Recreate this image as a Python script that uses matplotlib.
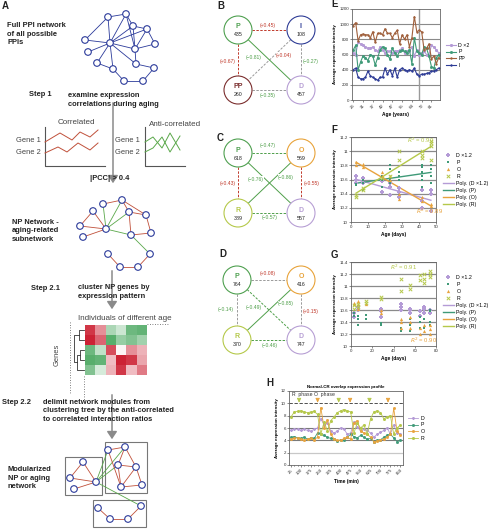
import numpy as np
import matplotlib
matplotlib.use('Agg')
import matplotlib.pyplot as plt
from matplotlib.patches import Circle, Rectangle, FancyArrowPatch
from matplotlib.colors import LinearSegmentedColormap

plt.rcParams['font.family'] = ['Liberation Sans', 'DejaVu Sans']

# ---------------- data ----------------
# Panel B-D: module sizes
B_nodes = ['P', 'I', 'PP', 'D']
B_sizes = [435, 108, 260, 457]
C_nodes = ['P', 'O', 'R', 'D']
C_sizes = [618, 569, 389, 557]
D_nodes = ['P', 'O', 'R', 'D']
D_sizes = [764, 416, 370, 747]

# Panel E (age in years, categorical)
ages_E = [26, 28, 29, 30, 31, 33, 34, 35, 37, 38, 40, 41, 42, 44, 45, 46, 47, 49,
          51, 53, 55, 57, 59, 61, 64, 66, 68, 70, 72, 74, 77, 79, 81, 84, 87, 91]
e_D = [620, 600, 760, 740, 720, 700, 680, 680, 700, 660, 640, 700, 660, 620, 640, 640, 620, 640,
       640, 660, 680, 620, 640, 640, 700, 580, 660, 600, 620, 640, 600, 600, 720, 700, 660, 620]
e_P = [660, 720, 400, 500, 580, 560, 520, 600, 580, 460, 560, 660, 700, 680, 600, 540, 680, 620,
       580, 640, 660, 640, 620, 660, 480, 820, 640, 620, 600, 700, 680, 580, 440, 420, 560, 600]
e_PP = [980, 1020, 780, 860, 870, 860, 860, 820, 900, 760, 880, 880, 860, 940, 880, 880, 820, 880,
        920, 740, 860, 800, 860, 700, 820, 1100, 900, 920, 900, 660, 680, 740, 540, 580, 480, 560]
e_I = [400, 420, 300, 280, 280, 300, 380, 320, 300, 280, 260, 300, 300, 420, 340, 400, 320, 420,
       300, 400, 420, 400, 380, 400, 380, 420, 340, 320, 340, 340, 350, 360, 380, 380, 400, 420]

# Panel F (age in days)
f_D_x = [3, 3, 3, 7, 7, 18, 18, 23, 23, 23, 28, 28, 28, 42, 42, 42, 47, 47, 47]
f_D_y = [10.65, 10.60, 10.55, 10.55, 10.62, 10.43, 10.58, 10.38, 10.50, 10.55, 10.35, 10.42, 10.48,
         10.20, 10.30, 10.45, 10.15, 10.40, 10.45]
f_P_x = [3, 3, 7, 7, 7, 18, 18, 18, 23, 23, 23, 23, 28, 28, 28, 42, 42, 42, 42, 42, 42, 47, 47, 47, 47]
f_P_y = [10.52, 10.54, 10.45, 10.55, 10.60, 10.50, 10.60, 10.65, 10.55, 10.60, 10.75, 10.80,
         10.60, 10.65, 10.70, 10.50, 10.60, 10.65, 10.70, 10.78, 10.80, 10.55, 10.65, 10.75, 10.80]
f_O_x = [3, 3, 7, 7, 18, 18, 23, 23, 28, 28, 42, 42, 47, 47]
f_O_y = [10.85, 10.80, 10.82, 10.78, 10.65, 10.70, 10.60, 10.65, 10.32, 10.40, 10.30, 10.35, 10.22, 10.25]
f_R_x = [3, 3, 7, 7, 18, 23, 28, 28, 42, 42, 42, 47, 47, 47, 47]
f_R_y = [10.36, 10.38, 10.45, 10.48, 10.62, 10.65, 10.87, 11.00, 10.90, 10.95, 11.00,
         10.88, 11.08, 11.12, 11.15]

# Panel G (age in days)
g_D_x = [3, 3, 7, 7, 28, 28, 28, 47, 47, 47, 56, 56, 56, 65, 65, 69, 69, 69, 74, 74]
g_D_y = [10.48, 10.55, 10.60, 10.65, 10.48, 10.58, 10.62, 10.60, 10.65, 10.70, 10.55, 10.60, 10.62,
         10.50, 10.58, 10.55, 10.62, 10.65, 10.55, 10.60]
g_P_x = [3, 3, 7, 7, 7, 14, 14, 28, 28, 47, 47, 56, 56, 56, 65, 65, 65, 69, 69, 74, 74, 74, 74]
g_P_y = [10.50, 10.55, 10.35, 10.45, 10.50, 10.45, 10.52, 10.35, 10.38, 10.25, 10.30, 10.25, 10.35,
         10.45, 10.30, 10.40, 10.48, 10.30, 10.45, 10.35, 10.40, 10.58, 10.60]
g_O_x = [3, 3, 7, 7, 7, 14, 28, 28, 47, 47, 47, 56, 56, 56, 65, 65, 69, 69, 74, 74, 74]
g_O_y = [10.70, 10.72, 10.62, 10.70, 10.75, 10.70, 10.55, 10.60, 10.30, 10.40, 10.45, 10.30, 10.40,
         10.48, 10.20, 10.30, 10.25, 10.35, 10.20, 10.28, 10.35]
g_R_x = [3, 3, 7, 7, 14, 14, 28, 28, 47, 47, 56, 56, 65, 65, 69, 69, 69, 74, 74, 74]
g_R_y = [10.62, 10.68, 10.65, 10.70, 10.72, 10.75, 10.78, 10.82, 10.92, 11.12, 10.95, 11.02,
         11.10, 11.18, 11.05, 11.12, 11.20, 11.15, 11.20, 11.25]

# Panel H (time in min)
h_t = [25, 50, 75, 100, 125, 150, 175, 200, 225, 250, 275, 300, 325, 350, 375, 400, 425,
       450, 475, 500, 525, 550, 575, 600, 625, 650, 675, 700, 725, 750, 775, 800, 825, 850]
h_R = [7.8, 8.6, 8.7, 8.8, 8.6, 8.5, 8.6, 8.7, 8.2, 5.0, 7.0, 5.5, 7.2, 7.8, 8.5, 8.8, 9.0,
       8.8, 8.6, 5.2, 6.8, 6.0, 6.5, 5.0, 7.5, 8.6, 8.8, 8.5, 7.5, 7.8, 8.0, 5.0, 6.0, 6.5]
h_O = [4.2, 4.3, 4.4, 4.2, 4.0, 4.2, 4.3, 4.1, 4.5, 9.3, 6.0, 7.3, 5.0, 4.2, 4.0, 4.0, 4.3,
       4.5, 4.2, 6.8, 7.2, 5.5, 5.2, 5.0, 4.5, 3.8, 3.9, 4.0, 4.2, 4.5, 5.0, 9.2, 5.5, 4.8]
h_D = [5.6, 5.8, 5.8, 5.6, 5.8, 5.6, 5.5, 5.8, 6.0, 7.5, 6.5, 6.8, 5.5, 5.2, 5.5, 6.0, 5.8,
       5.0, 5.2, 7.0, 6.2, 5.5, 5.8, 5.6, 5.2, 4.5, 5.0, 5.3, 5.6, 6.0, 5.0, 6.5, 5.2, 5.0]
h_P = [4.5, 4.6, 4.4, 4.3, 4.5, 4.2, 4.4, 4.3, 5.2, 5.0, 4.8, 4.5, 4.3, 4.2, 3.9, 4.1, 4.0,
       4.5, 5.0, 4.6, 4.4, 4.8, 4.5, 4.2, 4.3, 3.8, 4.0, 4.1, 4.5, 4.8, 5.0, 4.4, 3.8, 4.0]
h_phase_t = [86, 226, 385, 471, 617, 757]
h_phase = ['R', 'O', 'R', 'O', 'R', 'O']

# ---------------- styles ----------------
cD, cP, cO, cR = '#b49bd6', '#3f9a78', '#e8a33d', '#b5c84a'
cPP, cI = '#a0603c', '#2e3c96'
NAVY = '#2b3a9a'
RED = '#c0503a'
GRN = '#5aa84a'
GRAY = '#9a9a9a'

W, H = 492, 529
fig = plt.figure(figsize=(W / 100, H / 100), dpi=100)
ov = fig.add_axes([0, 0, 1, 1])
ov.set_xlim(0, W)
ov.set_ylim(H, 0)
ov.axis('off')

BS = 5.4   # bold step text size
NS = 5.4   # normal annotation size


def fbox(x0, y0, x1, y1):
    return [x0 / W, 1 - y1 / H, (x1 - x0) / W, (y1 - y0) / H]


def txt(x, y, s, size=BS, bold=False, color='#222222', **kw):
    ov.text(x, y, s, fontsize=size, fontweight='bold' if bold else 'normal', color=color,
            va=kw.pop('va', 'center'), ha=kw.pop('ha', 'left'), **kw)


def network(nodes, edges, r=3.3):
    for a, b, c in edges:
        ov.plot([nodes[a][0], nodes[b][0]], [nodes[a][1], nodes[b][1]], color=c, lw=0.6, zorder=2)
    for (x, y) in nodes:
        ov.add_patch(Circle((x, y), r, facecolor='white', edgecolor=NAVY, lw=0.8, zorder=3))


def arrow(x, y0, y1):
    ov.add_patch(FancyArrowPatch((x, y0), (x, y1), arrowstyle='-|>,head_length=3,head_width=2',
                                 color='#8a8a8a', lw=1.1, zorder=1, mutation_scale=1.5))


# ---------------- Panel A ----------------
txt(2, 6, 'A', size=7, bold=True)
full_nodes = [(108, 17), (126, 14), (85, 40), (110, 43), (133, 26), (147, 29), (155, 44), (135, 49),
              (88, 52), (97, 63), (113, 69), (136, 64), (154, 68), (124, 81), (143, 81)]
full_edges = [(0, 1), (0, 2), (0, 3), (1, 3), (1, 4), (1, 7), (4, 5), (4, 3), (5, 3), (5, 6), (6, 7),
              (3, 7), (3, 2), (3, 8), (3, 9), (3, 10), (3, 11), (7, 11), (11, 12), (12, 14), (14, 13),
              (13, 10), (4, 7), (5, 7), (9, 10)]
network(full_nodes, [(a, b, NAVY) for a, b in full_edges])
txt(7, 34, 'Full PPI network\nof all possible\nPPIs', bold=True, linespacing=1.25)

arrow(113, 100, 186)
txt(29, 95, 'Step 1', bold=True)
txt(68, 100, 'examine expression\ncorrelations during aging', bold=True, linespacing=1.25)

# mini correlated / anti-correlated charts
ov.plot([45, 45, 105], [127, 166, 166], color='#555555', lw=0.8)
ov.plot([145, 145, 185], [127, 166, 166], color='#555555', lw=0.8)
ov.plot([45, 60, 72, 80, 90, 98], [142, 133, 140, 132, 137, 130], color=RED, lw=0.7)
ov.plot([45, 58, 67, 78, 90, 98], [153, 147, 152, 143, 150, 143], color=RED, lw=0.7)
ov.plot([145, 153, 162, 170, 180], [142, 137, 148, 133, 150], color=GRN, lw=0.7)
ov.plot([145, 153, 162, 170, 180], [152, 148, 137, 152, 136], color=GRN, lw=0.7)
txt(58, 123, 'Correlated', size=NS + 0.4, color='#444444')
txt(149, 125, 'Anti-correlated', size=NS + 0.4, color='#444444')
for gx in (16, 115):
    txt(gx, 141, 'Gene 1', size=NS, color='#444444')
    txt(gx, 153, 'Gene 2', size=NS, color='#444444')
txt(90, 178, '|PCC| > 0.4', bold=True)

np_nodes = [(103, 204), (122, 200), (93, 211), (129, 212), (146, 215), (80, 226), (106, 229),
            (131, 235), (151, 233), (83, 237), (150, 254), (108, 254), (120, 267), (138, 267)]
np_edges = [(0, 1, RED), (2, 5, RED), (5, 6, RED), (2, 6, RED), (6, 9, RED), (1, 4, RED), (3, 4, RED),
            (4, 8, RED), (3, 7, RED), (7, 8, RED), (1, 3, RED), (0, 6, GRN), (1, 6, GRN), (3, 6, GRN),
            (6, 7, GRN), (7, 10, GRN), (10, 13, RED), (13, 12, RED), (12, 11, RED)]
network(np_nodes, np_edges)
txt(12, 231, 'NP Network -\naging-related\nsubnetwork', bold=True, linespacing=1.25)

arrow(112, 268, 312)
txt(31, 288, 'Step 2.1', bold=True)
txt(78, 292, 'cluster NP genes by\nexpression pattern', bold=True, linespacing=1.25)
txt(78, 318, 'Individuals of different age', size=NS + 0.4, color='#444444')

heat = np.array([[0.9, 0.5, -0.4, -0.25, -0.7, -0.75],
                 [1.0, 0.7, -0.8, -0.5, -0.6, -0.45],
                 [-0.7, -0.3, 0.8, 0.05, 0.5, 0.35],
                 [-0.8, -0.75, 0.3, 1.0, 0.9, 0.4],
                 [-0.6, -0.2, 0.35, 0.9, 0.3, 0.6]])
cmap = LinearSegmentedColormap.from_list('gr', ['#2f9a48', '#ffffff', '#cc2234'])
cw, ch = 62 / 6, 10
for i in range(heat.shape[0]):
    for j in range(heat.shape[1]):
        ov.add_patch(Rectangle((85 + j * cw, 325 + i * ch), cw, ch,
                               facecolor=cmap((heat[i, j] + 1) / 2), edgecolor='none'))
# dendrogram
dl = dict(color='#333333', lw=0.6)
ov.plot([84, 79, 79, 84], [330, 330, 340, 340], **dl)
ov.plot([84, 80, 80, 84], [350, 350, 360, 360], **dl)
ov.plot([80, 77, 77, 84], [355, 355, 370, 370], **dl)
ov.plot([79, 74, 74, 77], [335, 335, 362, 362], **dl)
ov.plot([70, 70], [322, 393], color='#555555', lw=0.6, ls=(0, (1, 2)))
ov.plot([83.5, 83.5], [376, 400], color='#555555', lw=0.6, ls=(0, (1, 2)))
ov.plot([147, 168], [324, 324], color='#555555', lw=0.6, ls=(0, (1, 2)))
ov.text(57, 355, 'Genes', fontsize=NS, rotation=90, ha='center', va='center', color='#444444')

arrow(112, 392, 442)
txt(2, 403, 'Step 2.2', bold=True)
txt(43, 411, 'delimit network modules from\nclustering tree by the anti-correlated\n'
             'to correlated interaction ratios', bold=True, linespacing=1.25)

for (x0, y0, x1, y1) in [(65, 457, 102, 495), (105, 442, 147, 493), (93, 500, 146, 527)]:
    ov.add_patch(Rectangle((x0, y0), x1 - x0, y1 - y0, fill=False, edgecolor='#777777', lw=0.8))
mod_nodes = [(83, 462), (70, 478), (96, 482), (74, 489),
             (108, 450), (125, 447), (118, 465), (136, 467), (121, 487), (142, 485),
             (98, 508), (110, 519), (128, 519), (141, 506)]
mod_edges = [(0, 1, RED), (1, 2, RED), (0, 2, RED), (2, 3, RED),
             (2, 4, GRN), (2, 5, GRN), (2, 6, GRN), (2, 13, GRN),
             (4, 5, RED), (4, 8, RED), (5, 7, RED), (6, 7, RED), (6, 8, RED), (7, 8, RED),
             (7, 9, RED), (8, 9, RED), (5, 6, RED),
             (10, 11, RED), (11, 12, RED), (12, 13, RED)]
network(mod_nodes, mod_edges)
txt(8, 478, 'Modularized\nNP or aging\nnetwork', bold=True, linespacing=1.25)

# ---------------- Panels B-D ----------------
node_color = {'P': '#4fa050', 'I': '#2e3c96', 'PP': '#7b2e2e', 'D': '#b79fd4',
              'O': '#e8a33a', 'R': '#b5c94a'}
RAD = 14


def module_diagram(letter, lx, ly, names, sizes, centers, edges):
    txt(lx, ly, letter, size=7, bold=True)
    for (a, b, style, col, lab, lcol, tx, ty) in edges:
        (x0, y0), (x1, y1) = centers[a], centers[b]
        d = np.hypot(x1 - x0, y1 - y0)
        ux, uy = (x1 - x0) / d, (y1 - y0) / d
        ov.plot([x0 + ux * RAD, x1 - ux * RAD], [y0 + uy * RAD, y1 - uy * RAD], color=col,
                lw=0.7, ls=style, zorder=2)
        ov.text(tx, ty, lab, fontsize=3.6, color=lcol, ha='center', va='center',
                zorder=4, bbox=dict(facecolor='white', edgecolor='none', pad=0.2))
    for n, s, (x, y) in zip(names, sizes, centers):
        ov.add_patch(Circle((x, y), RAD, facecolor='white', edgecolor=node_color[n], lw=0.8, zorder=3))
        ov.text(x, y - 3, n, fontsize=5, fontweight='bold', color=node_color[n], ha='center',
                va='center', zorder=4)
        ov.text(x, y + 5, str(s), fontsize=3.8, color='#222222', ha='center', va='center', zorder=4)


EG, ER = '#4f9f4a', '#c0392b'
dash = (0, (2.5, 1.5))
module_diagram('B', 217, 6, B_nodes, B_sizes, [(238, 30), (301, 30), (238, 90), (301, 90)], [
    (0, 1, dash, ER, '(+0.45)', ER, 268, 26),
    (0, 2, dash, ER, '(+0.67)', ER, 228, 61),
    (1, 3, dash, GRAY, '(\u22120.27)', EG, 311, 61),
    (2, 3, dash, GRAY, '(\u22120.35)', EG, 268, 95),
    (1, 2, dash, GRAY, '(+0.04)', ER, 284, 55),
    (0, 3, '-', EG, '(\u22120.81)', EG, 254, 57),
])
module_diagram('C', 217, 138, C_nodes, C_sizes, [(238, 153), (301, 153), (238, 213), (301, 213)], [
    (0, 1, dash, EG, '(\u22120.47)', EG, 268, 146),
    (0, 2, dash, ER, '(+0.43)', ER, 228, 183),
    (1, 3, dash, ER, '(+0.55)', ER, 312, 183),
    (2, 3, dash, EG, '(\u22120.57)', EG, 270, 218),
    (0, 3, '-', EG, '(\u22120.76)', EG, 256, 179),
    (2, 1, '-', EG, '(\u22120.86)', EG, 286, 177),
])
module_diagram('D', 219, 254, D_nodes, D_sizes, [(237, 280), (301, 280), (237, 340), (301, 340)], [
    (0, 1, dash, GRAY, '(+0.08)', ER, 268, 274),
    (0, 2, dash, GRAY, '(\u22120.14)', EG, 226, 310),
    (1, 3, dash, GRAY, '(+0.15)', ER, 311, 311),
    (2, 3, dash, EG, '(\u22120.46)', EG, 270, 345),
    (0, 3, dash, EG, '(\u22120.49)', EG, 254, 307),
    (2, 1, '-', EG, '(\u22120.85)', EG, 286, 304),
])

# ---------------- chart helpers ----------------
FS = 3.2


def style_ax(ax, ylabel, xlabel):
    for s in ax.spines.values():
        s.set_color('#666666')
        s.set_linewidth(0.6)
    ax.tick_params(labelsize=FS, length=1.2, width=0.4, pad=1, colors='#333333')
    ax.set_ylabel(ylabel, fontsize=FS, fontweight='bold', labelpad=1.5)
    ax.set_xlabel(xlabel, fontsize=FS + 0.3, fontweight='bold', labelpad=2)


def hgrid(ax, ys, color='#8a8a8a', lw=0.9):
    for y in ys:
        ax.axhline(y, color=color, lw=lw, zorder=0)


# ---------------- Panel E ----------------
txt(331, 4, 'E', size=7, bold=True)
axE = fig.add_axes(fbox(352, 9, 440, 100))
xi = np.arange(len(ages_E))
hgrid(axE, [200, 400, 600, 800, 1000], lw=0.8)
axE.axvline(27, color='#9a9a9a', lw=1.0, zorder=0)
axE.plot(xi, e_D, color=cD, marker='*', ms=1.8, lw=0.8, label='D \u00d72')
axE.plot(xi, e_P, color=cP, marker='s', ms=1.0, lw=0.8, label='P')
axE.plot(xi, e_PP, color=cPP, marker='+', ms=1.8, lw=0.8, label='PP')
axE.plot(xi, e_I, color=cI, marker='+', ms=1.8, lw=0.8, label='I')
axE.set_ylim(0, 1200)
axE.set_yticks(range(0, 1201, 200))
axE.set_xlim(-0.5, len(ages_E) - 0.5)
axE.set_xticks(xi[::4])
axE.set_xticklabels([str(a) for a in ages_E[::4]], rotation=45, ha='right', rotation_mode='anchor')
style_ax(axE, 'Average expression intensity', 'Age (years)')
axE.legend(loc='upper left', bbox_to_anchor=(443 / W, 1 - 40 / H), bbox_transform=fig.transFigure,
           fontsize=FS + 0.6, frameon=False, handlelength=2.0, labelspacing=0.35, borderpad=0,
           handletextpad=0.4)

# ---------------- Panel F ----------------
txt(331, 130, 'F', size=7, bold=True)
axF = fig.add_axes(fbox(351, 137, 436, 222))
hgrid(axF, np.arange(10.2, 11.21, 0.2))
axF.scatter(f_D_x, f_D_y, marker='P', s=5, color=cD, lw=0, label='D \u00d71.2', zorder=3)
axF.scatter(f_P_x, f_P_y, marker='s', s=4.5, color=cP, lw=0, label='P', zorder=3)
axF.scatter(f_O_x, f_O_y, marker='^', s=5.5, color=cO, lw=0, label='O', zorder=3)
axF.scatter(f_R_x, f_R_y, marker='x', s=6, color=cR, lw=0.7, label='R', zorder=3)
xs = np.array([3, 47])
for xv, yv, c, lab in [(f_D_x, f_D_y, cD, 'Poly. (D \u00d71.2)'), (f_P_x, f_P_y, cP, 'Poly. (P)'),
                       (f_O_x, f_O_y, cO, 'Poly. (O)'), (f_R_x, f_R_y, cR, 'Poly. (R)')]:
    k = np.polyfit(xv, yv, 1)
    axF.plot(xs, np.polyval(k, xs), color=c, lw=1.0, label=lab, zorder=2)
axF.text(33, 11.12, '$R^2$ = 0.90', fontsize=FS + 1, color=cR)
axF.text(38, 10.12, '$R^2$ = 0.89', fontsize=FS + 1, color=cO)
axF.set_xlim(0, 50)
axF.set_ylim(10, 11.2)
axF.set_yticks(np.arange(10, 11.21, 0.2))
axF.set_yticklabels(['10', '10.2', '10.4', '10.6', '10.8', '11', '11.2'])
style_ax(axF, 'Average expression intensity', 'Age (days)')
axF.legend(loc='upper left', bbox_to_anchor=(440 / W, 1 - 150 / H), bbox_transform=fig.transFigure,
           fontsize=FS + 0.6, frameon=False, handlelength=2.2, labelspacing=0.38, borderpad=0,
           handletextpad=0.4, scatterpoints=1)

# ---------------- Panel G ----------------
txt(331, 255, 'G', size=7, bold=True)
axG = fig.add_axes(fbox(351, 262, 436, 346))
hgrid(axG, np.arange(10.2, 11.41, 0.2))
axG.scatter(g_D_x, g_D_y, marker='P', s=5, color=cD, lw=0, label='D \u00d71.2', zorder=3)
axG.scatter(g_P_x, g_P_y, marker='s', s=4.5, color=cP, lw=0, label='P', zorder=3)
axG.scatter(g_O_x, g_O_y, marker='^', s=5.5, color=cO, lw=0, label='O', zorder=3)
axG.scatter(g_R_x, g_R_y, marker='x', s=6, color=cR, lw=0.7, label='R', zorder=3)
for c, lab in [(cD, 'Poly. (D \u00d71.2)'), (cP, 'Poly. (P)'), (cO, 'Poly. (O)'), (cR, 'Poly. (R)')]:
    axG.plot([], [], color=c, lw=1.0, label=lab)
axG.text(37, 11.27, '$R^2$ = 0.91', fontsize=FS + 1, color=cR)
axG.text(56, 10.06, '$R^2$ = 0.90', fontsize=FS + 1, color=cO)
axG.set_xlim(0, 80)
axG.set_ylim(10, 11.4)
axG.set_yticks(np.arange(10, 11.41, 0.2))
axG.set_yticklabels(['10', '10.2', '10.4', '10.6', '10.8', '11', '11.2', '11.4'])
style_ax(axG, 'Average expression intensity', 'Age (days)')
axG.legend(loc='upper left', bbox_to_anchor=(440 / W, 1 - 272 / H), bbox_transform=fig.transFigure,
           fontsize=FS + 0.6, frameon=False, handlelength=2.2, labelspacing=0.38, borderpad=0,
           handletextpad=0.4, scatterpoints=1)

# ---------------- Panel H ----------------
txt(266, 383, 'H', size=7, bold=True)
axH = fig.add_axes(fbox(289, 391, 403, 465))
axH.axhline(2, color='#c8c8c8', lw=0.9, zorder=0)
hgrid(axH, [4, 6, 8], color='#7a7a7a', lw=0.8)
axH.axhline(10, color='#333333', lw=0.6, ls=(0, (4, 2)), zorder=0)
axH.plot(h_t, h_D, color=cD, marker='*', ms=1.5, lw=0.6, label='D')
axH.plot(h_t, h_P, color=cP, marker='s', ms=1.0, lw=0.6, label='P')
axH.plot(h_t, h_O, color=cO, marker='s', ms=1.0, lw=0.6, label='O')
axH.plot(h_t, h_R, color=cR, marker='x', ms=1.5, lw=0.6, label='R')
for t, ph in zip(h_phase_t, h_phase):
    axH.annotate('', xy=(t, 10.1), xytext=(t, 11.0),
                 arrowprops=dict(arrowstyle='-|>,head_length=0.25,head_width=0.12',
                                 color=cR if ph == 'R' else cO, lw=0.6))
axH.text(35, 11.4, 'R  phase', fontsize=FS + 0.5, color='#333333', va='center')
axH.text(195, 11.4, 'O  phase', fontsize=FS + 0.5, color='#333333', va='center')
axH.set_xlim(10, 870)
axH.set_ylim(0, 12)
axH.set_yticks(range(0, 13, 2))
axH.set_xticks(range(25, 851, 75))
axH.set_xticks(h_t, minor=True)
axH.tick_params(axis='x', which='minor', length=1, width=0.4)
axH.set_xticklabels([str(v) for v in range(25, 851, 75)], rotation=45, ha='right',
                    rotation_mode='anchor')
style_ax(axH, 'Average expression intensity', 'Time (min)')
axH.set_title('Normal-CR overlap expression profile', fontsize=FS, fontweight='bold', pad=2)
axH.legend(loc='upper left', bbox_to_anchor=(405 / W, 1 - 413 / H), bbox_transform=fig.transFigure,
           fontsize=FS + 0.6, frameon=False, handlelength=2.0, labelspacing=0.35, borderpad=0,
           handletextpad=0.4)

fig.savefig('out.png', dpi=100)
